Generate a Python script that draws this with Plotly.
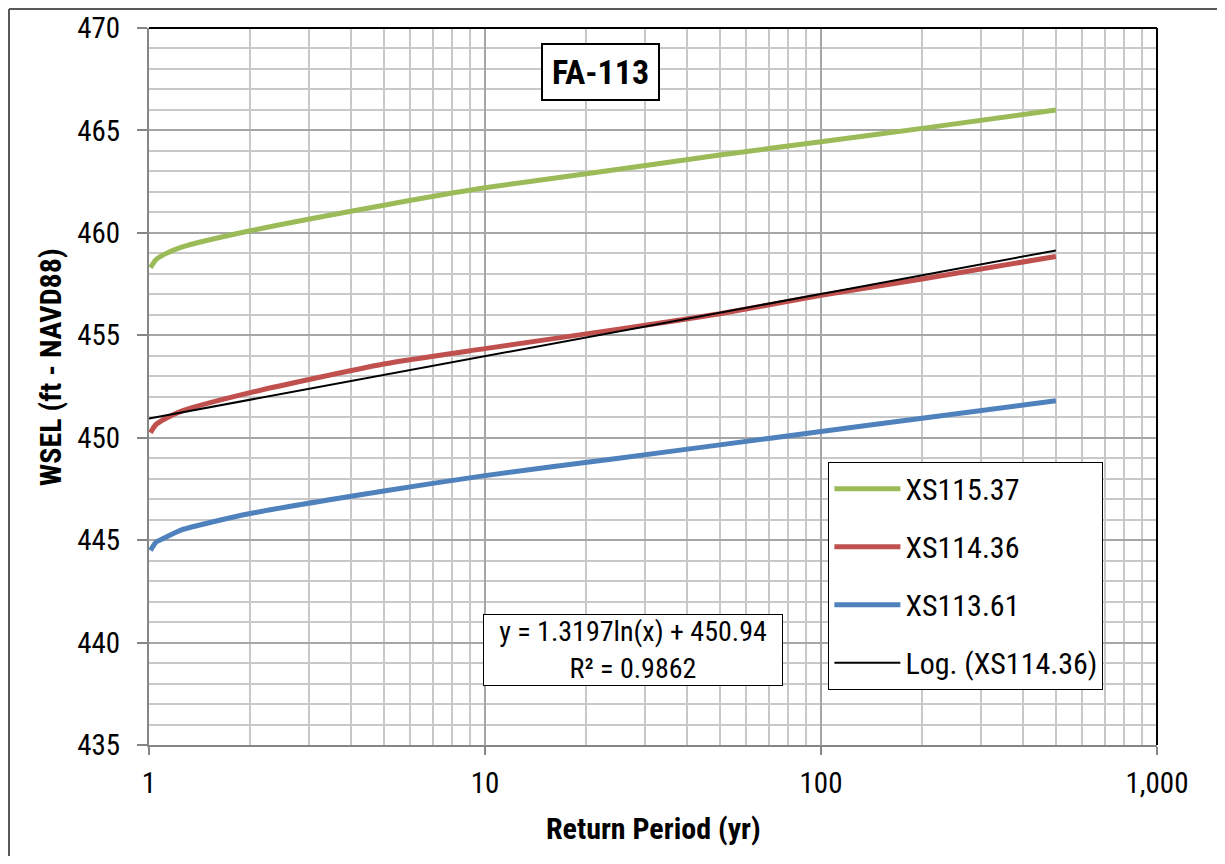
import numpy as np
import plotly.graph_objects as go

# ---- data ----
return_period = [1.01, 1.05, 1.11, 1.25, 2, 5, 10, 25, 50, 100, 200, 500]
xs115_37 = [458.3, 458.7, 458.95, 459.3, 460.1, 461.35, 462.2, 463.1, 463.8, 464.45, 465.1, 466.0]
xs114_36 = [450.25, 450.65, 450.9, 451.3, 452.2, 453.6, 454.35, 455.3, 456.05, 456.95, 457.75, 458.85]
xs113_61 = [444.5, 444.9, 445.1, 445.5, 446.3, 447.4, 448.15, 449.0, 449.65, 450.3, 450.95, 451.8]
series_names = ["XS115.37", "XS114.36", "XS113.61", "Log. (XS114.36)"]
trend_a, trend_b = 1.3197, 450.94
trend_r2 = 0.9862
trend_x_range = [1, 500]
x_tickvals = [1, 10, 100, 1000]
x_ticktext = ["1", "10", "100", "1,000"]
chart_title = "FA-113"
x_title = "Return Period (yr)"
y_title = "WSEL (ft - NAVD88)"

FONT = "Liberation Sans Narrow, Arial Narrow, Roboto Condensed, DejaVu Sans Condensed, sans-serif"

colors = ["#9BBB59", "#C0504D", "#4F81BD"]

fig = go.Figure()
for i, (name, ys) in enumerate(zip(series_names[:3], [xs115_37, xs114_36, xs113_61])):
    fig.add_trace(go.Scatter(x=return_period, y=ys, mode="lines", name=name,
                             line=dict(color=colors[i], width=5, shape="spline", smoothing=0.6),
                             legendgroup=f"g{i}"))

tx = np.geomspace(trend_x_range[0], trend_x_range[1], 200)
ty = trend_a * np.log(tx) + trend_b
fig.add_trace(go.Scatter(x=tx, y=ty, mode="lines", name=series_names[3],
                         line=dict(color="black", width=2), legendgroup="g3"))

grid_major = "#a6a6a6"
grid_minor = "#c8c8c8"

fig.update_xaxes(type="log", range=[0, 3], tickvals=x_tickvals, ticktext=x_ticktext,
                 showgrid=True, gridcolor=grid_major, gridwidth=2,
                 minor=dict(dtick="D1", showgrid=True, gridcolor=grid_minor, gridwidth=2, ticks=""),
                 showline=True, linecolor="#868686", linewidth=2,
                 ticks="outside", ticklen=8, tickcolor="#868686", tickwidth=2,
                 ticklabelstandoff=3, automargin=False,
                 tickfont=dict(family=FONT, size=29, color="black"),
                 zeroline=False)
fig.update_yaxes(range=[435, 470], dtick=5,
                 showgrid=True, gridcolor=grid_major, gridwidth=2,
                 minor=dict(dtick=1, showgrid=True, gridcolor=grid_minor, gridwidth=2, ticks=""),
                 showline=True, linecolor="#868686", linewidth=2,
                 ticks="outside", ticklen=10, tickcolor="#868686", tickwidth=2,
                 ticklabelstandoff=11, automargin=False,
                 tickfont=dict(family=FONT, size=29, color="black"),
                 zeroline=False)

fig.update_layout(
    width=1209, height=848,
    margin=dict(l=141, r=60, t=20, b=111),
    paper_bgcolor="white", plot_bgcolor="white",
    font=dict(family=FONT, size=29, color="black"),
    showlegend=True,
    legend=dict(x=0.674, y=0.395, xanchor="left", yanchor="top",
                bgcolor="white", bordercolor="black", borderwidth=1,
                font=dict(family=FONT, size=30, color="black"),
                tracegroupgap=16, traceorder="grouped", itemwidth=66),
)

# axis titles
fig.add_annotation(xref="paper", yref="paper", x=0.5, y=-0.1158, xanchor="center", yanchor="middle",
                   text=f"<b>{x_title}</b>", showarrow=False,
                   font=dict(family=FONT, size=30, color="black"))
fig.add_annotation(xref="paper", yref="paper", x=-0.0982, y=0.527, xanchor="center", yanchor="middle",
                   text=f"<b>{y_title}</b>", showarrow=False, textangle=-90,
                   font=dict(family=FONT, size=30, color="black"))

# plot area top/right border
fig.add_shape(type="line", xref="paper", yref="paper", x0=0, x1=1, y0=1, y1=1,
              line=dict(color="black", width=2))
fig.add_shape(type="line", xref="paper", yref="paper", x0=1, x1=1, y0=0, y1=1,
              line=dict(color="black", width=2))
# outer chart frame (left and top edges visible)
fig.add_shape(type="line", xref="paper", yref="paper", x0=-0.1389, x1=1.2, y0=1.0265, y1=1.0265,
              line=dict(color="#595959", width=2))
fig.add_shape(type="line", xref="paper", yref="paper", x0=-0.1389, x1=-0.1389, y0=-0.2, y1=1.0265,
              line=dict(color="#595959", width=2))

fig.add_annotation(xref="paper", yref="paper", x=0.4484, y=0.9386, xanchor="center", yanchor="middle",
                   text=f"<b>{chart_title}</b>", width=103, height=42,
                   showarrow=False, font=dict(family=FONT, size=34, color="black"),
                   bgcolor="white", bordercolor="black", borderwidth=2, borderpad=6)
fig.add_annotation(xref="paper", yref="paper", x=0.4802, y=0.1325, xanchor="center", yanchor="middle",
                   text=f"y = {trend_a}ln(x) + {trend_b}<br>R² = {trend_r2}",
                   width=294, height=66,
                   showarrow=False, align="center",
                   font=dict(family=FONT, size=28, color="black"),
                   bgcolor="white", bordercolor="black", borderwidth=1, borderpad=2)

fig.write_html("out.html")
